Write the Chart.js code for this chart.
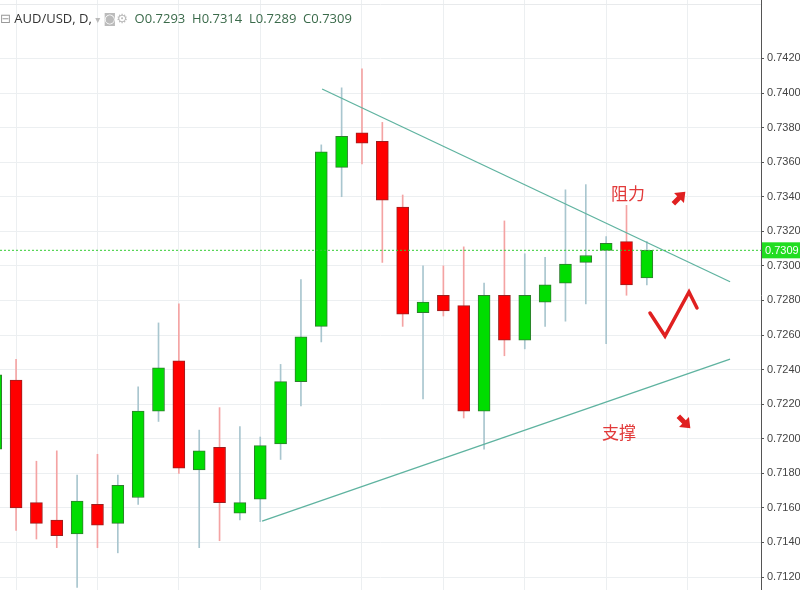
<!DOCTYPE html>
<html><head><meta charset="utf-8">
<script src="https://cdn.jsdelivr.net/npm/chart.js@4/dist/chart.umd.min.js"></script>
<style>
html,body{margin:0;padding:0;background:#fff;}
#wrap{position:relative;width:800px;height:590px;}
#hdr{position:absolute;left:0;top:9px;font:13px "Open Sans","DejaVu Sans",sans-serif;color:#333;white-space:nowrap;}
#hdr .v{color:#3a6a4a;}
</style></head><body>
<div id="wrap"><canvas id="c" width="800" height="590"></canvas>
<div id="hdr"><span style="color:#999">&#8863;</span> AUD/USD, D, <span style="color:#bbb;font-size:10px">▾</span> <span style="color:#bbb">◙⚙</span>&nbsp; <span class="v">O0.7293 &nbsp;H0.7314 &nbsp;L0.7289 &nbsp;C0.7309</span></div>
</div>
<script>
const idx   = [0,1,2,3,4,5,6,7,8,9,10,11,12,13,14,15,16,17,18,19,20,21,22,23,24,25,26,27,28,29,30,31,32];
const open  = [0.7194,0.7234,0.7163,0.7153,0.7145,0.7162,0.7151,0.7166,0.7216,0.7245,0.7182,0.7195,0.7157,0.7165,0.7197,0.7233,0.7265,0.7357,0.7377,0.7372,0.7334,0.7273,0.7283,0.7277,0.7216,0.7283,0.7257,0.7279,0.7290,0.7302,0.7309,0.7314,0.7293];
const high  = [0.7245,0.7246,0.7187,0.7193,0.7179,0.7191,0.7179,0.7230,0.7267,0.7278,0.7205,0.7218,0.7207,0.7201,0.7243,0.7292,0.7370,0.7403,0.7414,0.7383,0.7341,0.7300,0.7300,0.7311,0.7290,0.7326,0.7307,0.7305,0.7344,0.7347,0.7317,0.7335,0.7314];
const low   = [0.7185,0.7147,0.7142,0.7137,0.7114,0.7137,0.7134,0.7162,0.7210,0.7180,0.7137,0.7141,0.7153,0.7152,0.7188,0.7219,0.7256,0.7340,0.7359,0.7302,0.7265,0.7223,0.7271,0.7212,0.7194,0.7248,0.7252,0.7265,0.7268,0.7278,0.7255,0.7283,0.7289];
const close = [0.7237,0.7160,0.7151,0.7144,0.7164,0.7150,0.7173,0.7216,0.7241,0.7183,0.7193,0.7163,0.7163,0.7196,0.7233,0.7259,0.7366,0.7375,0.7371,0.7338,0.7272,0.7279,0.7274,0.7216,0.7283,0.7257,0.7283,0.7289,0.7301,0.7306,0.7313,0.7289,0.7309];
const resistance = [{x:16.04,y:0.74023},{x:36.09,y:0.72908}];
const support    = [{x:13.09,y:0.71523},{x:36.09,y:0.72460}];
const lastPrice = 0.7309;
const yTicks = [0.7120,0.7140,0.7160,0.7180,0.7200,0.7220,0.7240,0.7260,0.7280,0.7300,0.7320,0.7340,0.7360,0.7380,0.7400,0.7420];
const xGrid = [1,5,9,13,18,22,26,30,34];

const up = idx.map(i=>close[i]>=open[i]);
const GREEN='#00dd00', RED='#ff0000';

const wicks = {type:'bar', data: idx.map(i=>({x:i,y:[low[i],high[i]]})),
  backgroundColor: idx.map(i=>up[i]?'#a9c6cf':'#f4a3a3'), barThickness:1, grouped:false, order:3};
const bodies = {type:'bar', data: idx.map(i=>({x:i,y:[open[i],close[i]]})),
  backgroundColor: idx.map(i=>up[i]?GREEN:RED), borderColor: idx.map(i=>up[i]?'#2f7d2f':'#9a2020'),
  borderWidth:1, borderSkipped:false, barThickness:12, grouped:false, order:2};
const resL = {type:'line', data:resistance, borderColor:'#5fb3a0', borderWidth:1.3, pointRadius:0, order:1};
const supL = {type:'line', data:support, borderColor:'#5fb3a0', borderWidth:1.3, pointRadius:0, order:1};

const overlay = {id:'overlay', afterDatasetsDraw(ch){
  const c=ch.ctx, y=ch.scales.y, ca=ch.chartArea;
  const py=y.getPixelForValue(lastPrice);
  c.save();
  c.strokeStyle='#e8eaec'; c.lineWidth=1; c.beginPath(); c.moveTo(0,4.5); c.lineTo(ca.right,4.5); c.stroke();
  c.strokeStyle='#33cc33'; c.setLineDash([2,2]); c.lineWidth=1;
  c.beginPath(); c.moveTo(ca.left,py); c.lineTo(ca.right,py); c.stroke(); c.setLineDash([]);
  c.fillStyle='#22dd22'; c.fillRect(ca.right+1,py-8,39,16);
  c.fillStyle='#fff'; c.font='11px "Liberation Sans",sans-serif'; c.textBaseline='middle';
  c.fillText(lastPrice.toFixed(4),ca.right+4,py+1);
  c.fillStyle='#e23a3a'; c.font='17px "Noto Sans CJK SC"'; c.textBaseline='alphabetic';
  c.fillText('阻力',611,200); c.fillText('支撑',602,439);
  c.strokeStyle='#e02020'; c.lineWidth=3.5; c.lineCap='round';
  c.beginPath(); c.moveTo(650,313); c.lineTo(665,336); c.lineTo(689,292); c.lineTo(697,308); c.stroke();
  c.fillStyle='#e02020';
  function arrow(x,y,ang){c.save();c.translate(x,y);c.rotate(ang);
    c.beginPath();c.moveTo(0,-9);c.lineTo(7,0);c.lineTo(2.5,0);c.lineTo(2.5,8);c.lineTo(-2.5,8);c.lineTo(-2.5,0);c.lineTo(-7,0);c.closePath();c.fill();c.restore();}
  arrow(679,198,Math.PI/4); arrow(684,422,Math.PI*3/4);
  c.restore();
}};

new Chart(document.getElementById('c'),{
  data:{datasets:[wicks,bodies,resL,supL]},
  options:{responsive:false,animation:false,
    layout:{padding:0},
    plugins:{legend:{display:false},tooltip:{enabled:false}},
    scales:{
      x:{type:'linear',min:0.21,max:37.61,offset:false,display:true,
        afterBuildTicks(s){s.ticks=xGrid.map(v=>({value:v}));},
        afterFit(s){s.height=0;},
        ticks:{display:false},grid:{color:'#eceff1',drawTicks:false,offset:false},border:{display:false}},
      y:{position:'right',min:0.71125,max:0.74538,
        afterBuildTicks(s){s.ticks=yTicks.map(v=>({value:v}));},
        afterFit(s){s.width=39;s.paddingTop=0;s.paddingBottom=0;},
        ticks:{callback:v=>v.toFixed(4),color:'#444',font:{size:11,family:'Liberation Sans'},padding:3},
        grid:{color:'#eceff1',drawTicks:true,tickLength:3,tickColor:'#555'},border:{color:'#555'}}
    }},
  plugins:[overlay]
});
</script></body></html>
